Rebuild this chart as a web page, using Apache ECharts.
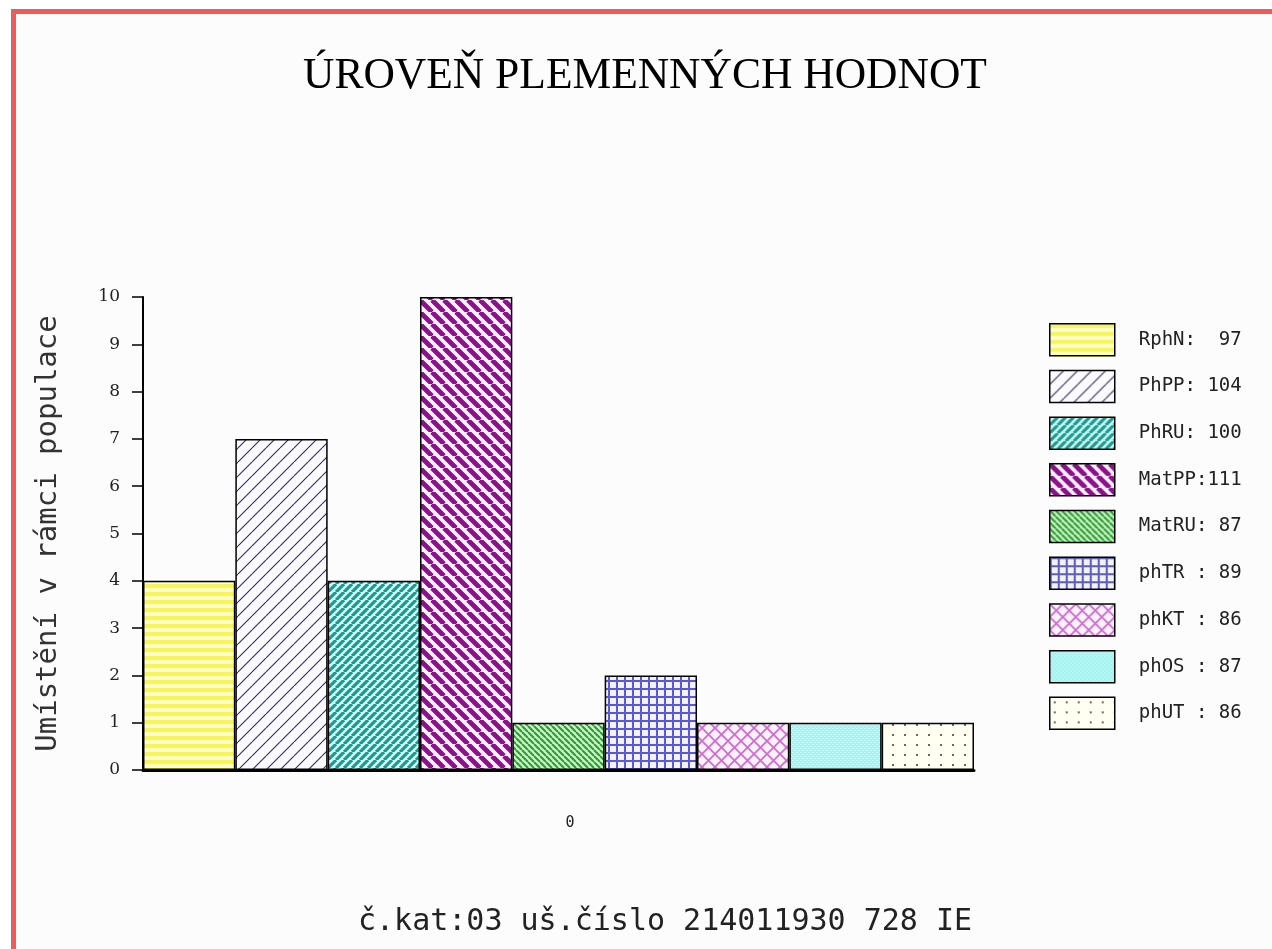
<!DOCTYPE html>
<html>
<head>
<meta charset="utf-8">
<script src="https://cdn.jsdelivr.net/npm/echarts@6/dist/echarts.min.js"></script>
<style>
html,body{margin:0;padding:0;background:#fff;}
#frame{position:absolute;left:11px;top:9px;width:1261px;height:940px;border-top:5px solid #f05a5a;border-left:5px solid #f05a5a;background:#fcfcfc;box-sizing:border-box;}
#chart{position:absolute;left:0;top:0;width:1272px;height:949px;}
</style>
</head>
<body>
<div id="frame"></div>
<div id="chart"></div>
<script>
// ---- data ----
const categories = ['0'];
const seriesNames = ['RphN', 'PhPP', 'PhRU', 'MatPP', 'MatRU', 'phTR', 'phKT', 'phOS', 'phUT'];
const seriesValues = [4, 7, 4, 10, 1, 2, 1, 1, 1];
const legendLabels = ['RphN:  97', 'PhPP: 104', 'PhRU: 100', 'MatPP:111', 'MatRU: 87', 'phTR : 89', 'phKT : 86', 'phOS : 87', 'phUT : 86'];
const yTicks = [0, 1, 2, 3, 4, 5, 6, 7, 8, 9, 10];
const titleText = 'ÚROVEŇ PLEMENNÝCH HODNOT';
const yAxisName = 'Umístění v rámci populace';
const footerText = 'č.kat:03 uš.číslo 214011930 728 IE';

// ---- patterns ----
function pat(w, h, bg, draw) {
  const c = document.createElement('canvas');
  c.width = w; c.height = h;
  const g = c.getContext('2d');
  g.fillStyle = bg; g.fillRect(0, 0, w, h);
  draw(g, w, h);
  return { image: c, repeat: 'repeat' };
}
function slash(g, s, color, lw) {
  g.strokeStyle = color; g.lineWidth = lw; g.beginPath();
  for (let k = -1; k <= 1; k++) { g.moveTo(k * s, s); g.lineTo(k * s + s, 0); }
  g.stroke();
}
function back(g, s, color, lw) {
  g.strokeStyle = color; g.lineWidth = lw; g.beginPath();
  for (let k = -1; k <= 1; k++) { g.moveTo(k * s, 0); g.lineTo(k * s + s, s); }
  g.stroke();
}
const patterns = [
  pat(8, 8, '#ffffc8', (g) => { g.fillStyle = '#f6f65c'; g.fillRect(0, 0, 8, 4); }),
  pat(14, 14, '#fafaff', (g) => slash(g, 14, '#2e2e58', 1.1)),
  pat(8, 8, '#ccffff', (g) => slash(g, 8, '#1f9a8c', 3.2)),
  pat(12, 12, '#fff0ff', (g) => back(g, 12, '#8a138a', 4.8)),
  pat(6, 6, '#c8f5c8', (g) => back(g, 6, '#2f9a2f', 2)),
  pat(8, 8, '#f2f2ff', (g) => { g.fillStyle = '#5c5cc4'; g.fillRect(0, 0, 8, 2); g.fillRect(0, 0, 2, 8); }),
  pat(13, 13, '#fff0ff', (g) => { slash(g, 13, '#cc70cc', 1.8); back(g, 13, '#cc70cc', 1.8); }),
  pat(4, 4, '#a8f2f2', (g) => { g.fillStyle = '#c6fafa'; g.fillRect(0, 0, 2, 1); g.fillRect(2, 2, 2, 1); }),
  pat(12, 10, '#fffff2', (g) => { g.fillStyle = '#6a6a60'; g.fillRect(4, 4, 2, 2); })
];

const series = seriesNames.map((name, i) => ({
  name: name,
  type: 'bar',
  barGap: '0%',
  barCategoryGap: '0%',
  data: [seriesValues[i]],
  itemStyle: { color: patterns[i], borderColor: '#000', borderWidth: 1.5 },
  emphasis: { disabled: true }
}));

const chart = echarts.init(document.getElementById('chart'), null, { renderer: 'canvas' });
chart.setOption({
  animation: false,
  backgroundColor: 'transparent',
  grid: { left: 143, right: 298, top: 297, bottom: 179 },
  xAxis: {
    type: 'category',
    data: categories,
    axisLine: { lineStyle: { color: '#000', width: 3 } },
    axisTick: { show: false },
    axisLabel: { margin: 46, color: '#222', fontFamily: 'DejaVu Sans Mono', fontSize: 15, padding: [0, 0, 0, 23] }
  },
  yAxis: {
    type: 'value',
    min: yTicks[0],
    max: yTicks[yTicks.length - 1],
    interval: 1,
    name: yAxisName,
    nameLocation: 'middle',
    nameRotate: 90,
    nameGap: 80,
    nameTextStyle: { fontFamily: 'DejaVu Sans Mono', fontSize: 29, color: '#333' },
    axisLine: { show: true, lineStyle: { color: '#000', width: 2 } },
    axisTick: { show: true, inside: false, length: 11, lineStyle: { color: '#000', width: 1.5 } },
    axisLabel: { margin: 23, color: '#222', fontFamily: 'DejaVu Serif', fontSize: 17 },
    splitLine: { show: false }
  },
  legend: {
    orient: 'vertical',
    left: 1049,
    top: 323,
    padding: 0,
    icon: 'rect',
    itemWidth: 65,
    itemHeight: 32,
    itemGap: 13.2,
    selectedMode: false,
    data: seriesNames,
    formatter: (name) => legendLabels[seriesNames.indexOf(name)],
    itemStyle: { borderColor: '#000', borderWidth: 1.5 },
    textStyle: { fontFamily: 'DejaVu Sans Mono', fontSize: 19, color: '#222', padding: [0, 0, 0, 19] }
  },
  graphic: [
    { type: 'text', left: 303, top: 55, silent: true,
      style: { text: titleText, fontFamily: 'Liberation Serif', fontSize: 43.5, fill: '#000' } },
    { type: 'text', left: 358, top: 907, silent: true,
      style: { text: footerText, fontFamily: 'DejaVu Sans Mono', fontSize: 30, fill: '#222' } }
  ],
  series: series
});
</script>
</body>
</html>
